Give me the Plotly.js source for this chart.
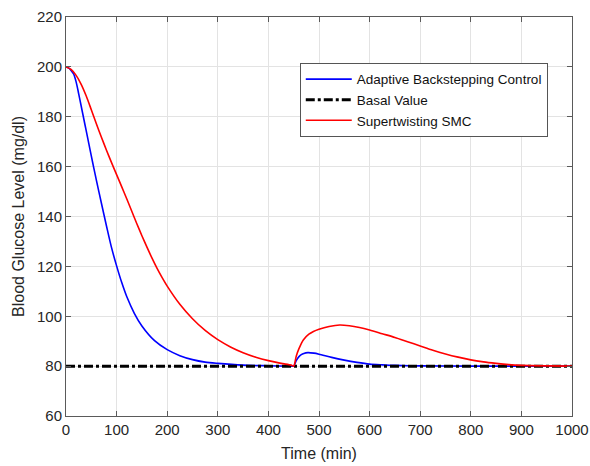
<!DOCTYPE html>
<html>
<head>
<meta charset="utf-8">
<script src="https://cdn.plot.ly/plotly-3.0.1.min.js"></script>
<style>html,body{margin:0;padding:0;background:#fff}#chart{width:590px;height:466px}</style>
</head>
<body>
<div id="chart"></div>
<script>
// Adaptive Backstepping Control
const abcTime = [0,5,10,15,20,25,30,35,40,45,50,55,60,70,80,90,100,110,120,135,150,175,200,225,250,275,300,350,400,445,450,455,460,465,470,478,490,500,525,550,575,600,625,650,700,800,900,1000];
const abcGlucose = [200,199.6,198.6,197.2,194,189.3,184.3,179.3,174.3,169.3,164.3,159.4,154.6,145.3,136.2,127.5,120.2,113.6,107.9,101.2,96.1,90.2,86.6,84.2,82.6,81.6,81.1,80.4,80.15,80,80,82.2,83.7,84.6,85.1,85.4,85.2,84.8,83.5,82.4,81.5,80.8,80.5,80.3,80.1,80,80,80];
// Basal Value
const basalTime = [0,1000];
const basalGlucose = [80,80];
// Supertwisting SMC
const stTime = [0,10,20,30,40,50,60,70,80,90,100,110,120,130,140,150,160,170,180,190,200,225,250,275,300,325,350,375,400,425,445,450,455,460,469,480,489,500,520,541,560,580,600,625,650,675,700,725,750,775,800,825,850,875,900,950,1000];
const stGlucose = [200,199,196.6,193,188.3,182.8,177.2,171.8,166.6,161.6,156.8,152,147.1,142.1,137.1,132.3,127.7,123.3,119.2,115.5,112.1,104.8,99,94.3,90.6,87.7,85.4,83.6,82.2,81.1,80.4,80,84,86.8,90.5,92.8,93.9,94.8,95.9,96.5,96.2,95.5,94.5,93,91.5,89.8,88.1,86.4,84.9,83.6,82.5,81.7,81.1,80.6,80.3,80.1,80];
const seriesNames = ['Adaptive Backstepping Control','Basal Value','Supertwisting SMC'];
const xTicks = [0,100,200,300,400,500,600,700,800,900,1000];
const yTicks = [60,80,100,120,140,160,180,200,220];

const traces = [
  {x: abcTime, y: abcGlucose, name: seriesNames[0], mode: 'lines', line: {color: '#0000ff', width: 1.6, shape: 'spline', smoothing: 0.8}},
  {x: basalTime, y: basalGlucose, name: seriesNames[1], mode: 'lines', line: {color: '#000000', width: 3, dash: '9px,3px,3px,3px'}},
  {x: stTime, y: stGlucose, name: seriesNames[2], mode: 'lines', line: {color: '#ff0000', width: 1.6, shape: 'spline', smoothing: 0.8}}
];

const fam = 'Liberation Sans, Arial, sans-serif';
const axisCommon = {
  showline: true, linecolor: '#5a5a5a', linewidth: 1, mirror: 'ticks',
  ticks: 'inside', ticklen: 5, tickcolor: '#5a5a5a', tickwidth: 1,
  showgrid: true, gridcolor: '#e3e3e3', gridwidth: 1, zeroline: false,
  tickfont: {family: fam, size: 15, color: '#262626'}
};

const layout = {
  width: 590, height: 466,
  margin: {l: 66, r: 18, t: 17, b: 50},
  paper_bgcolor: '#ffffff', plot_bgcolor: '#ffffff',
  showlegend: true,
  legend: {
    x: 0.462, y: 0.885, xanchor: 'left', yanchor: 'top',
    bgcolor: '#ffffff', bordercolor: '#555555', borderwidth: 1,
    font: {family: fam, size: 13.5, color: '#111111'},
    itemwidth: 46, tracegroupgap: 0
  },
  xaxis: Object.assign({}, axisCommon, {
    range: [0, 1000], tickvals: xTicks, ticktext: xTicks.map(String),
    title: {text: 'Time (min)', font: {family: fam, size: 16, color: '#262626'}, standoff: 10}
  }),
  yaxis: Object.assign({}, axisCommon, {
    range: [60, 220], tickvals: yTicks, ticktext: yTicks.map(String),
    title: {text: 'Blood Glucose Level (mg/dl)', font: {family: fam, size: 16, color: '#262626'}, standoff: 8}
  })
};

Plotly.newPlot('chart', traces, layout, {displayModeBar: false, staticPlot: true});
</script>
</body>
</html>
